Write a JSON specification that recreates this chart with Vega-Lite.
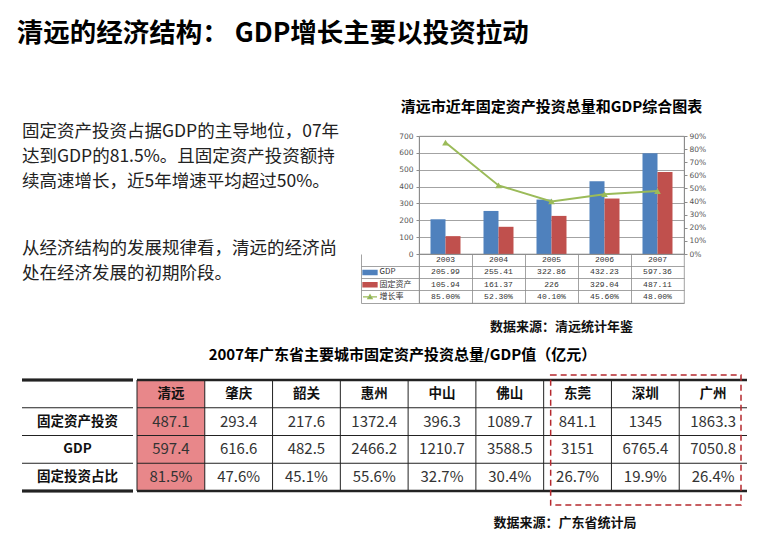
{
  "$schema": "https://vega.github.io/schema/vega-lite/v6.json",
  "padding": {"left": 16, "top": 21, "right": 5, "bottom": 5},
  "background": "white",
  "config": {
    "view": {"stroke": null},
    "font": "Noto Sans CJK SC",
    "title": {"color": "#000"}
  },
  "title": {"text": "清远的经济结构： GDP增长主要以投资拉动", "anchor": "start", "fontSize": 26.5, "fontWeight": "bold", "dx": -4, "offset": 52},
  "datasets": {
    "qy": [
      {"year": "2003", "GDP": 205.99, "固定资产": 105.94, "增长率": 0.85},
      {"year": "2004", "GDP": 255.41, "固定资产": 161.37, "增长率": 0.523},
      {"year": "2005", "GDP": 322.86, "固定资产": 226, "增长率": 0.401},
      {"year": "2006", "GDP": 432.23, "固定资产": 329.04, "增长率": 0.456},
      {"year": "2007", "GDP": 597.36, "固定资产": 487.11, "增长率": 0.48}
    ],
    "cities": [
      {"row": "固定资产投资", "city": "清远", "v": "487.1"},
      {"row": "固定资产投资", "city": "肇庆", "v": "293.4"},
      {"row": "固定资产投资", "city": "韶关", "v": "217.6"},
      {"row": "固定资产投资", "city": "惠州", "v": "1372.4"},
      {"row": "固定资产投资", "city": "中山", "v": "396.3"},
      {"row": "固定资产投资", "city": "佛山", "v": "1089.7"},
      {"row": "固定资产投资", "city": "东莞", "v": "841.1"},
      {"row": "固定资产投资", "city": "深圳", "v": "1345"},
      {"row": "固定资产投资", "city": "广州", "v": "1863.3"},
      {"row": "GDP", "city": "清远", "v": "597.4"},
      {"row": "GDP", "city": "肇庆", "v": "616.6"},
      {"row": "GDP", "city": "韶关", "v": "482.5"},
      {"row": "GDP", "city": "惠州", "v": "2466.2"},
      {"row": "GDP", "city": "中山", "v": "1210.7"},
      {"row": "GDP", "city": "佛山", "v": "3588.5"},
      {"row": "GDP", "city": "东莞", "v": "3151"},
      {"row": "GDP", "city": "深圳", "v": "6765.4"},
      {"row": "GDP", "city": "广州", "v": "7050.8"},
      {"row": "固定投资占比", "city": "清远", "v": "81.5%"},
      {"row": "固定投资占比", "city": "肇庆", "v": "47.6%"},
      {"row": "固定投资占比", "city": "韶关", "v": "45.1%"},
      {"row": "固定投资占比", "city": "惠州", "v": "55.6%"},
      {"row": "固定投资占比", "city": "中山", "v": "32.7%"},
      {"row": "固定投资占比", "city": "佛山", "v": "30.4%"},
      {"row": "固定投资占比", "city": "东莞", "v": "26.7%"},
      {"row": "固定投资占比", "city": "深圳", "v": "19.9%"},
      {"row": "固定投资占比", "city": "广州", "v": "26.4%"}
    ]
  },
  "spacing": 13,
  "vconcat": [
    {
      "spacing": 10,
      "hconcat": [
        {
          "width": 328,
          "height": 127,
          "data": {"values": [
            {"para": "p1", "lines": ["固定资产投资占据GDP的主导地位，07年", "达到GDP的81.5%。且固定资产投资额持", "续高速增长，近5年增速平均超过50%。"]},
            {"para": "p2", "lines": ["从经济结构的发展规律看，清远的经济尚", "处在经济发展的初期阶段。"]}
          ]},
          "mark": {"type": "text", "align": "left", "baseline": "bottom", "fontSize": 17.5, "lineHeight": 25, "color": "#222"},
          "encoding": {
            "x": {"datum": 0, "type": "quantitative", "scale": {"domain": [0, 1]}, "axis": null},
            "y": {"field": "para", "type": "nominal", "scale": {"type": "point", "padding": 0.042}, "axis": null},
            "text": {"field": "lines"}
          }
        },
        {
          "spacing": 0,
          "bounds": "flush",
          "vconcat": [
            {
              "width": 265,
              "height": 118,
              "view": {"stroke": "#8c8c8c", "strokeWidth": 0.8},
              "title": {"text": "清远市近年固定资产投资总量和GDP综合图表", "fontSize": 15, "fontWeight": "bold", "anchor": "middle", "offset": 17},
              "data": {"name": "qy"},
              "layer": [
                {
                  "transform": [{"fold": ["GDP", "固定资产"], "as": ["series", "value"]}],
                  "mark": {"type": "bar"},
                  "encoding": {
                    "x": {"field": "year", "type": "nominal", "scale": {"type": "band", "paddingInner": 0.434, "paddingOuter": 0.217}, "axis": null},
                    "xOffset": {"field": "series", "type": "nominal", "scale": {"domain": ["GDP", "固定资产"], "paddingInner": 0, "paddingOuter": 0}},
                    "y": {"field": "value", "type": "quantitative", "scale": {"domain": [0, 700], "nice": false},
                      "axis": {"values": [0, 100, 200, 300, 400, 500, 600, 700], "title": null, "grid": true, "gridColor": "#8c8c8c", "gridWidth": 0.8, "domainColor": "#8c8c8c", "tickColor": "#8c8c8c", "tickSize": 3, "labelFontSize": 7.5, "labelColor": "#555", "labelFont": "DejaVu Sans", "labelPadding": 3}},
                    "color": {"field": "series", "type": "nominal", "scale": {"domain": ["GDP", "固定资产"], "range": ["#4F81BD", "#C0504D"]}, "legend": null}
                  }
                },
                {
                  "mark": {"type": "line", "color": "#9BBB59", "strokeWidth": 2, "point": {"shape": "triangle-up", "filled": true, "size": 45, "color": "#9BBB59"}},
                  "encoding": {
                    "x": {"field": "year", "type": "nominal"},
                    "y": {"field": "增长率", "type": "quantitative", "scale": {"domain": [0, 0.9], "nice": false},
                      "axis": {"orient": "right", "values": [0, 0.1, 0.2, 0.3, 0.4, 0.5, 0.6, 0.7, 0.8, 0.9], "format": ".0%", "title": null, "grid": false, "domainColor": "#8c8c8c", "tickColor": "#8c8c8c", "tickSize": 3, "labelFontSize": 7.5, "labelColor": "#555", "labelFont": "DejaVu Sans", "labelPadding": 2}}
                  }
                }
              ],
              "resolve": {"scale": {"y": "independent"}}
            },
            {
              "width": 265,
              "height": 49,
              "view": {"stroke": "#8c8c8c", "strokeWidth": 0.8},
              "title": {"text": "数据来源：清远统计年鉴", "orient": "bottom", "anchor": "middle", "fontSize": 13, "fontWeight": "bold", "offset": 18, "dx": 10, "color": "#111"},
              "data": {"name": "qy"},
              "layer": [
                {
                  "transform": [
                    {"fold": ["GDP", "固定资产", "增长率"], "as": ["row", "value"]},
                    {"calculate": "datum.row === '增长率' ? format(datum.value, '.2%') : format(datum.value, '.2~f')", "as": "label"}
                  ],
                  "mark": {"type": "text", "fontSize": 8, "font": "Liberation Mono", "color": "#333"},
                  "encoding": {
                    "x": {"field": "year", "type": "nominal", "scale": {"type": "band", "paddingInner": 0, "paddingOuter": 0},
                      "axis": {"grid": true, "bandPosition": 0, "labels": false, "ticks": false, "domain": false, "title": null, "gridColor": "#8c8c8c", "gridWidth": 0.8}},
                    "y": {"field": "row", "type": "nominal", "scale": {"type": "band", "domain": ["year", "GDP", "固定资产", "增长率"], "paddingInner": 0, "paddingOuter": 0},
                      "axis": {"offset": 58, "tickSize": -58, "bandPosition": 1, "grid": true, "gridColor": "#8c8c8c", "gridWidth": 0.8, "domainColor": "#8c8c8c", "tickColor": "#8c8c8c", "tickWidth": 0.8, "domainWidth": 0.8, "labelAlign": "left", "labelPadding": 40, "labelBaseline": "middle", "labelExpr": "datum.value === 'year' ? '' : datum.value", "labelFontSize": 8, "labelColor": "#333", "title": null}},
                    "text": {"field": "label"}
                  }
                },
                {
                  "mark": {"type": "text", "fontSize": 8, "font": "Liberation Mono", "color": "#333"},
                  "encoding": {
                    "x": {"field": "year", "type": "nominal"},
                    "y": {"datum": "year"},
                    "text": {"field": "year"}
                  }
                },
                {
                  "transform": [
                    {"filter": "datum.year === '2003'"},
                    {"fold": ["GDP", "固定资产", "增长率"], "as": ["row", "value"]}
                  ],
                  "mark": {"type": "point", "filled": true, "size": 196, "strokeWidth": 1.3, "xOffset": -75.5, "opacity": 1},
                  "encoding": {
                    "x": {"datum": "2003"},
                    "y": {"field": "row", "type": "nominal"},
                    "shape": {"field": "row", "type": "nominal", "scale": {"domain": ["GDP", "固定资产", "增长率"], "range": ["M-1,-0.3L1,-0.3L1,0.3L-1,0.3Z", "M-1,-0.3L1,-0.3L1,0.3L-1,0.3Z", "M-1,0L1,0M-0.3,0.25L0,-0.3L0.3,0.25Z"]}, "legend": null},
                    "color": {"field": "row", "type": "nominal", "scale": {"domain": ["GDP", "固定资产", "增长率"], "range": ["#4F81BD", "#C0504D", "#9BBB59"]}, "legend": null},
                    "stroke": {"field": "row", "type": "nominal", "scale": {"domain": ["GDP", "固定资产", "增长率"], "range": ["#4F81BD", "#C0504D", "#9BBB59"]}, "legend": null}
                  }
                }
              ]
            }
          ]
        }
      ]
    },
    {
      "title": {"text": "2007年广东省主要城市固定资产投资总量/GDP值（亿元）", "fontSize": 15, "fontWeight": "bold", "anchor": "middle", "dx": 18, "offset": 11},
      "spacing": 0,
      "hconcat": [
        {
          "width": 111,
          "height": 111,
          "data": {"name": "cities"},
          "transform": [{"filter": "datum.city === '清远'"}],
          "layer": [
            {
              "mark": {"type": "text", "fontSize": 13.5, "fontWeight": "bold", "color": "#111"},
              "encoding": {
                "y": {"field": "row", "type": "nominal", "scale": {"type": "band", "domain": ["header", "固定资产投资", "GDP", "固定投资占比"], "paddingInner": 0, "paddingOuter": 0}, "axis": null},
                "text": {"field": "row"}
              }
            },
            {
              "mark": {"type": "rule", "strokeWidth": 1, "color": "#222"},
              "encoding": {"y": {"field": "row", "type": "nominal", "bandPosition": 0}}
            },
            {
              "mark": {"type": "rule", "strokeWidth": 2.5, "color": "#222"},
              "encoding": {"y": {"datum": "header", "bandPosition": 0}}
            },
            {
              "mark": {"type": "rule", "strokeWidth": 2.5, "color": "#222"},
              "encoding": {"y": {"datum": "固定投资占比", "bandPosition": 1}}
            }
          ]
        },
        {
          "width": 610,
          "height": 111,
          "title": {"text": "数据来源：广东省统计局", "orient": "bottom", "anchor": "middle", "dx": 123, "offset": 11, "fontSize": 13, "fontWeight": "bold", "color": "#111"},
          "data": {"name": "cities"},
          "layer": [
            {
              "transform": [{"filter": "datum.city === '清远' && datum.row === 'GDP'"}],
              "mark": {"type": "rect", "color": "#E8878A"},
              "encoding": {
                "x": {"field": "city", "type": "nominal", "scale": {"type": "band", "domain": ["清远", "肇庆", "韶关", "惠州", "中山", "佛山", "东莞", "深圳", "广州"], "paddingInner": 0, "paddingOuter": 0}, "axis": null},
                "y": {"datum": "header", "bandPosition": 0, "scale": {"type": "band", "domain": ["header", "固定资产投资", "GDP", "固定投资占比"], "paddingInner": 0, "paddingOuter": 0}, "axis": null},
                "y2": {"datum": "固定投资占比", "bandPosition": 1}
              }
            },
            {
              "transform": [{"filter": "datum.row === '固定资产投资'"}],
              "mark": {"type": "text", "fontSize": 13.5, "fontWeight": "bold", "color": "#111"},
              "encoding": {
                "x": {"field": "city", "type": "nominal"},
                "y": {"datum": "header"},
                "text": {"field": "city"}
              }
            },
            {
              "mark": {"type": "text", "fontSize": 15, "color": "#333"},
              "encoding": {
                "x": {"field": "city", "type": "nominal"},
                "y": {"field": "row", "type": "nominal"},
                "text": {"field": "v"}
              }
            },
            {
              "transform": [{"filter": "datum.row === 'GDP'"}],
              "mark": {"type": "rule", "strokeWidth": 1, "color": "#222"},
              "encoding": {"x": {"field": "city", "type": "nominal", "bandPosition": 0}}
            },
            {
              "transform": [{"filter": "datum.city === '清远'"}],
              "mark": {"type": "rule", "strokeWidth": 1, "color": "#222"},
              "encoding": {"y": {"field": "row", "type": "nominal", "bandPosition": 0}}
            },
            {
              "transform": [{"filter": "datum.city === '清远' && datum.row === 'GDP'"}],
              "mark": {"type": "rule", "strokeWidth": 2.5, "color": "#222"},
              "encoding": {"y": {"datum": "header", "bandPosition": 0}}
            },
            {
              "transform": [{"filter": "datum.city === '清远' && datum.row === 'GDP'"}],
              "mark": {"type": "rule", "strokeWidth": 2.5, "color": "#222"},
              "encoding": {"y": {"datum": "固定投资占比", "bandPosition": 1}}
            },
            {
              "transform": [{"filter": "datum.city === '东莞' && datum.row === 'GDP'"}],
              "mark": {"type": "rect", "filled": false, "color": "#B5292E", "strokeWidth": 1.5, "strokeDash": [6, 4], "yOffset": -5, "y2Offset": 14, "xOffset": 7, "x2Offset": -6},
              "encoding": {
                "x": {"datum": "东莞", "bandPosition": 0},
                "x2": {"datum": "广州", "bandPosition": 1},
                "y": {"datum": "header", "bandPosition": 0},
                "y2": {"datum": "固定投资占比", "bandPosition": 1}
              }
            }
          ]
        }
      ]
    }
  ]
}
